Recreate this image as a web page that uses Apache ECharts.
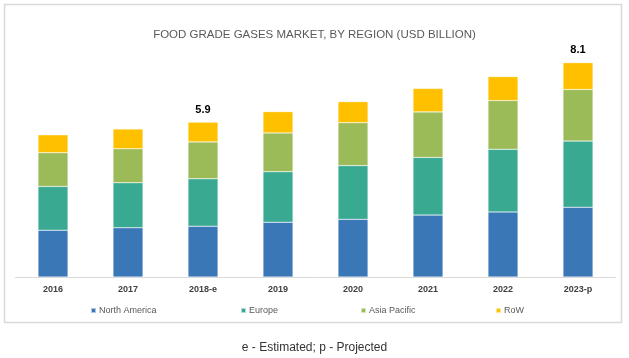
<!DOCTYPE html>
<html>
<head>
<meta charset="utf-8">
<script src="https://cdn.jsdelivr.net/npm/echarts@6/dist/echarts.min.js"></script>
<style>html,body{margin:0;padding:0;background:#fff;}#c{width:629px;height:358px;}</style>
</head>
<body>
<div id="c"></div>
<script>
var categories = ['2016', '2017', '2018-e', '2019', '2020', '2021', '2022', '2023-p'];
var northAmerica = [1.78, 1.87, 1.93, 2.08, 2.19, 2.35, 2.47, 2.65];
var europe = [1.66, 1.71, 1.80, 1.92, 2.04, 2.19, 2.38, 2.51];
var asiaPacific = [1.28, 1.29, 1.40, 1.47, 1.63, 1.73, 1.85, 1.96];
var row = [0.68, 0.75, 0.75, 0.81, 0.80, 0.89, 0.91, 1.02];
var totalLabels = ['', '', '5.9', '', '', '', '', '8.1'];

var chart = echarts.init(document.getElementById('c'));
var seriesNames = ['North America', 'Europe', 'Asia Pacific', 'RoW'];
var colors = ['#3a77b7', '#39aa91', '#9bbb59', '#ffc000'];
var seriesData = [northAmerica, europe, asiaPacific, row];
var legendLeft = [85, 235, 355, 490];

var series = seriesData.map(function (d, i) {
  return {
    name: seriesNames[i],
    type: 'bar',
    stack: 'total',
    barWidth: 30,
    itemStyle: { color: colors[i], borderColor: 'rgba(255,255,255,0.6)', borderWidth: 0.5 },
    data: i === 3 ? d.map(function (v, j) {
      return totalLabels[j] ? {
        value: v,
        label: {
          show: true, position: 'top', distance: 7,
          formatter: totalLabels[j],
          color: '#000', fontWeight: 'bold', fontSize: 11,
          fontFamily: 'Liberation Sans, Arial, sans-serif'
        }
      } : v;
    }) : d
  };
});

var legends = seriesNames.map(function (n, i) {
  return {
    data: [n],
    left: legendLeft[i],
    top: 301,
    icon: 'rect',
    itemWidth: 5,
    itemHeight: 5,
    itemGap: 3,
    textStyle: { color: '#595959', fontSize: 9, fontFamily: 'Liberation Sans, Arial, sans-serif', padding: [0, 0, 0, -2] }
  };
});

chart.setOption({
  animation: false,
  title: {
    text: 'FOOD GRADE GASES MARKET, BY REGION (USD BILLION)',
    left: 'center',
    top: 24,
    textStyle: { color: '#595959', fontSize: 11.5, fontWeight: 'normal', fontFamily: 'Liberation Sans, Arial, sans-serif' }
  },
  legend: legends,
  grid: { left: 15.5, right: 13.5, top: 40, bottom: 81, containLabel: false },
  xAxis: {
    type: 'category',
    data: categories,
    axisLine: { lineStyle: { color: '#d9d9d9' } },
    axisTick: { show: false },
    axisLabel: { color: '#404040', fontSize: 9, fontWeight: 'bold', margin: 8, fontFamily: 'Liberation Sans, Arial, sans-serif' }
  },
  yAxis: { type: 'value', min: 0, max: 9, show: false, splitLine: { show: false } },
  graphic: [
    { type: 'rect', shape: { x: 4.5, y: 4.5, width: 617, height: 318 }, style: { fill: 'none', stroke: '#d9d9d9', lineWidth: 1.5 }, silent: true },
    { type: 'text', left: 'center', top: 342, style: { text: 'e - Estimated; p - Projected', fill: '#333', fontSize: 12, fontFamily: 'Liberation Sans, Arial, sans-serif' } }
  ],
  series: series
});
</script>
</body>
</html>
